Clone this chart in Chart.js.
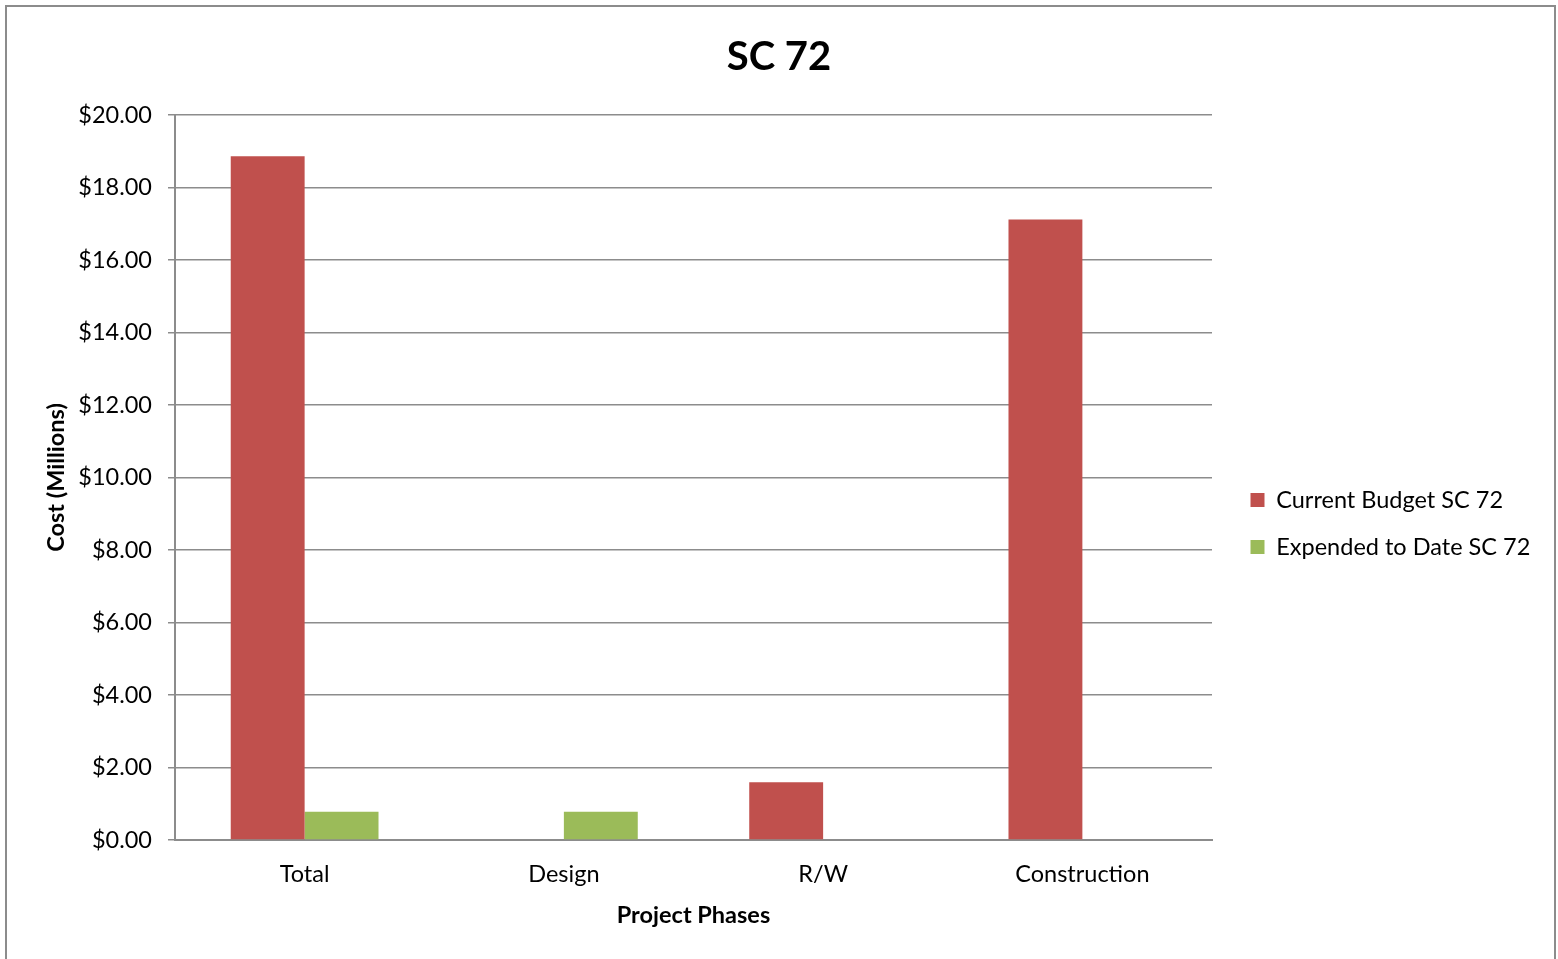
<!DOCTYPE html>
<html>
<head>
<meta charset="utf-8">
<script src="https://cdn.jsdelivr.net/npm/chart.js@4/dist/chart.umd.min.js"></script>
<style>
  html, body { margin: 0; padding: 0; background: #fff; }
  #wrap { width: 1558px; height: 959px; position: relative; }
</style>
</head>
<body>
<div id="wrap"><canvas id="c" width="1558" height="959"></canvas></div>
<script>
const categories = ["Total", "Design", "R/W", "Construction"];
const currentBudget = [18.86, 0, 1.59, 17.12];
const expendedToDate = [0.78, 0.78, 0, 0];
const seriesNames = ["Current Budget SC 72", "Expended to Date SC 72"];
const chartTitle = "SC 72";
const xTitle = "Project Phases";
const yTitle = "Cost (Millions)";
const yMin = 0, yMax = 20, yStep = 2;

const FONT = "Lato, 'Liberation Sans', sans-serif";
const FS = 23.5;
const LEG_PAD = 23.5;
const BOX_W = 14;

const borderPlugin = {
  id: 'frame',
  beforeDraw(chart) {
    const ctx = chart.ctx;
    ctx.save();
    ctx.fillStyle = '#ffffff';
    ctx.fillRect(0, 0, chart.width, chart.height);
    ctx.strokeStyle = '#8c8c8c';
    ctx.lineWidth = 2;
    ctx.strokeRect(6, 6, 1549, 1100);
    ctx.restore();
  }
};
// fix the legend column width so the plot area ends at x=1212, then nudge its items
const legendPlace = {
  id: 'legendPlace',
  beforeLayout(chart) {
    const lg = chart.legend;
    if (lg && !lg._fixedFit) {
      const orig = lg.fit;
      lg.fit = function () { orig.call(this); this.width = 1558 - 1212; };
      lg._fixedFit = true;
    }
  },
  afterLayout(chart) {
    const lg = chart.legend;
    if (!lg) return;
    lg.left += 15; lg.right += 15;
    lg.top += 44; lg.bottom += 44;
  }
};

new Chart(document.getElementById('c'), {
  type: 'bar',
  data: {
    labels: categories,
    datasets: [
      { label: seriesNames[0], data: currentBudget, backgroundColor: '#C0504D', borderWidth: 0 },
      { label: seriesNames[1], data: expendedToDate, backgroundColor: '#9BBB59', borderWidth: 0 }
    ]
  },
  plugins: [borderPlugin, legendPlace],
  options: {
    responsive: false,
    animation: false,
    devicePixelRatio: 1,
    datasets: { bar: { barPercentage: 1.0, categoryPercentage: 0.57 } },
    layout: { padding: { left: 0, right: 0, top: 0, bottom: 0 } },
    plugins: {
      title: {
        display: true, text: chartTitle, color: '#000',
        font: { family: FONT, size: 40, weight: 'bold', lineHeight: 1.2 },
        padding: { top: 33, bottom: 34 }
      },
      legend: {
        position: 'right', align: 'center',
        labels: {
          color: '#000', boxWidth: BOX_W, boxHeight: BOX_W, padding: LEG_PAD,
          font: { family: FONT, size: FS }
        }
      },
      tooltip: { enabled: false }
    },
    scales: {
      x: {
        offset: true,
        grid: { display: false, drawTicks: false },
        border: { display: true, color: '#8c8c8c', width: 2 },
        ticks: { color: '#000', padding: 20, font: { family: FONT, size: FS } },
        title: { display: true, text: xTitle, color: '#000', font: { family: FONT, size: FS, weight: 'bold' }, padding: { top: 0, bottom: 29 } },
        afterFit(scale) { scale.height = 119; }
      },
      y: {
        min: yMin, max: yMax,
        grid: { color: '#8c8c8c', lineWidth: 1.5, tickLength: 7, drawTicks: true },
        border: { display: true, color: '#8c8c8c', width: 2 },
        ticks: {
          stepSize: yStep, color: '#000', padding: 16,
          font: { family: FONT, size: FS },
          callback: v => '$' + Number(v).toFixed(2)
        },
        title: { display: true, text: yTitle, color: '#000', font: { family: FONT, size: FS, weight: 'bold' }, padding: { top: 42, bottom: 0 } },
        afterFit(scale) { scale.width = 175; }
      }
    }
  }
});
</script>
</body>
</html>
